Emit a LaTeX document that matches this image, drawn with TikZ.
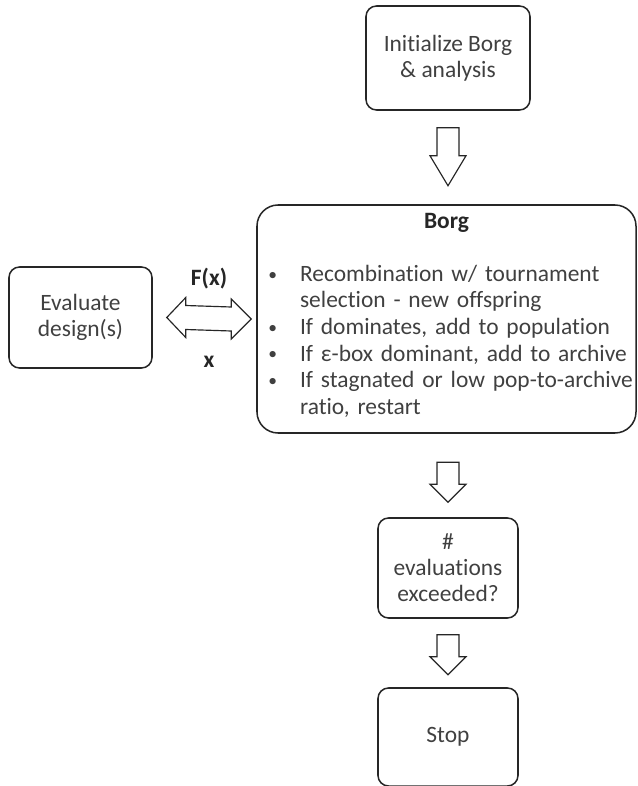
\documentclass[tikz,border=0pt]{standalone}
\usepackage{fontspec}
\setmainfont{Carlito}[Ligatures=NoCommon]
\usetikzlibrary{calc}
\definecolor{txtgray}{HTML}{404040}
\definecolor{linegray}{HTML}{262626}
\newcommand{\bul}[1]{\par\noindent\makebox[24pt][l]{\hspace{-3pt}\raisebox{1pt}{\fontsize{15}{15}\selectfont\textbullet}}\mbox{#1}}
\newcommand{\cont}[1]{\par\noindent\hspace*{24pt}\mbox{#1}}
\newcommand{\blockdown}[3]{% top of shaft, shaft length, head length
	\draw[blockarr] ($(#1)+(-11,0)$) -- ++(0,#2) -- ++(-7,0) -- ($(#1)+(0,#2+#3)$)
		-- ($(#1)+(18,#2)$) -- ++(-7,0) -- ($(#1)+(11,0)$) -- cycle;}
\begin{document}
\begin{tikzpicture}
		[x=0.03cm, y=-0.03cm,
		every node/.style={font=\fontsize{20}{22.3}\selectfont, text=txtgray},
		box/.style={draw=linegray, line width=1.3pt, rounded corners=9pt, align=center},
		blockarr/.style={draw=linegray, line width=1pt, fill=white},
		lbl/.style={font=\fontsize{20}{22.3}\selectfont\bfseries, text=linegray},
		]
		\useasboundingbox (0,0) rectangle (637,786);

		\node[box, minimum width=4.92cm, minimum height=3.12cm] (init) at (448,58)
			{Initialize Borg\\ \& analysis};
		\node[box, rounded corners=18pt, minimum width=11.37cm, minimum height=6.84cm]
			(borg) at (446.5,319) {};
		\node[lbl] (borgtitle) at ($(borg.north)+(0,19)$) {Borg};
		\node[text width=298pt, align=left, font=\fontsize{20}{22.7}\selectfont]
			(borglist) at ($(borg.center)+(0,17)$)
			{\bul{Recombination w/ tournament}
			\cont{selection - new offspring}
			\bul{If dominates, add to population}
			\bul{If ε-box dominant, add to archive}
			\bul{If stagnated or low pop-to-archive}
			\cont{ratio, restart}};
		\node[box, minimum width=4.29cm, minimum height=3.03cm] (evaldes) at (80.5,317.5)
			{Evaluate\\ design(s)};
		\node[box, minimum width=4.2cm, minimum height=3cm] (check) at (448,568)
			{\#\\ evaluations\\ exceeded?};
		\node[box, minimum width=4.2cm, minimum height=2.94cm] (stop) at (448,737) {Stop};

		% block arrows
		\coordinate (a1) at ($(init.south)+(0,17)$);
		\coordinate (a2) at ($(check.north)+(0,-55)$);
		\coordinate (a3) at ($(check.south)+(0,16)$);
		\blockdown{a1}{28}{30}
		\blockdown{a2}{22}{18}
		\blockdown{a3}{22}{18}

		\coordinate (dl) at ($(evaldes.east)+(14,0)$);
		\coordinate (dr) at ($(borg.west)+(-5,0)$);
		\draw[blockarr] (dl) -- ++(19,-20) -- ++(0,8) -- ($(dr)+(-20,-12)$) -- ++(0,-8)
			-- (dr) -- ++(-20,20) -- ++(0,-8) -- ($(dl)+(19,12)$) -- ++(0,8) -- cycle;
		\node[lbl] (fx) at ($(dl)!0.5!(dr)+(0,-40)$) {F(x)};
		\node[lbl] (xv) at ($(dl)!0.5!(dr)+(0,44)$) {x};
	\end{tikzpicture}
\end{document}
